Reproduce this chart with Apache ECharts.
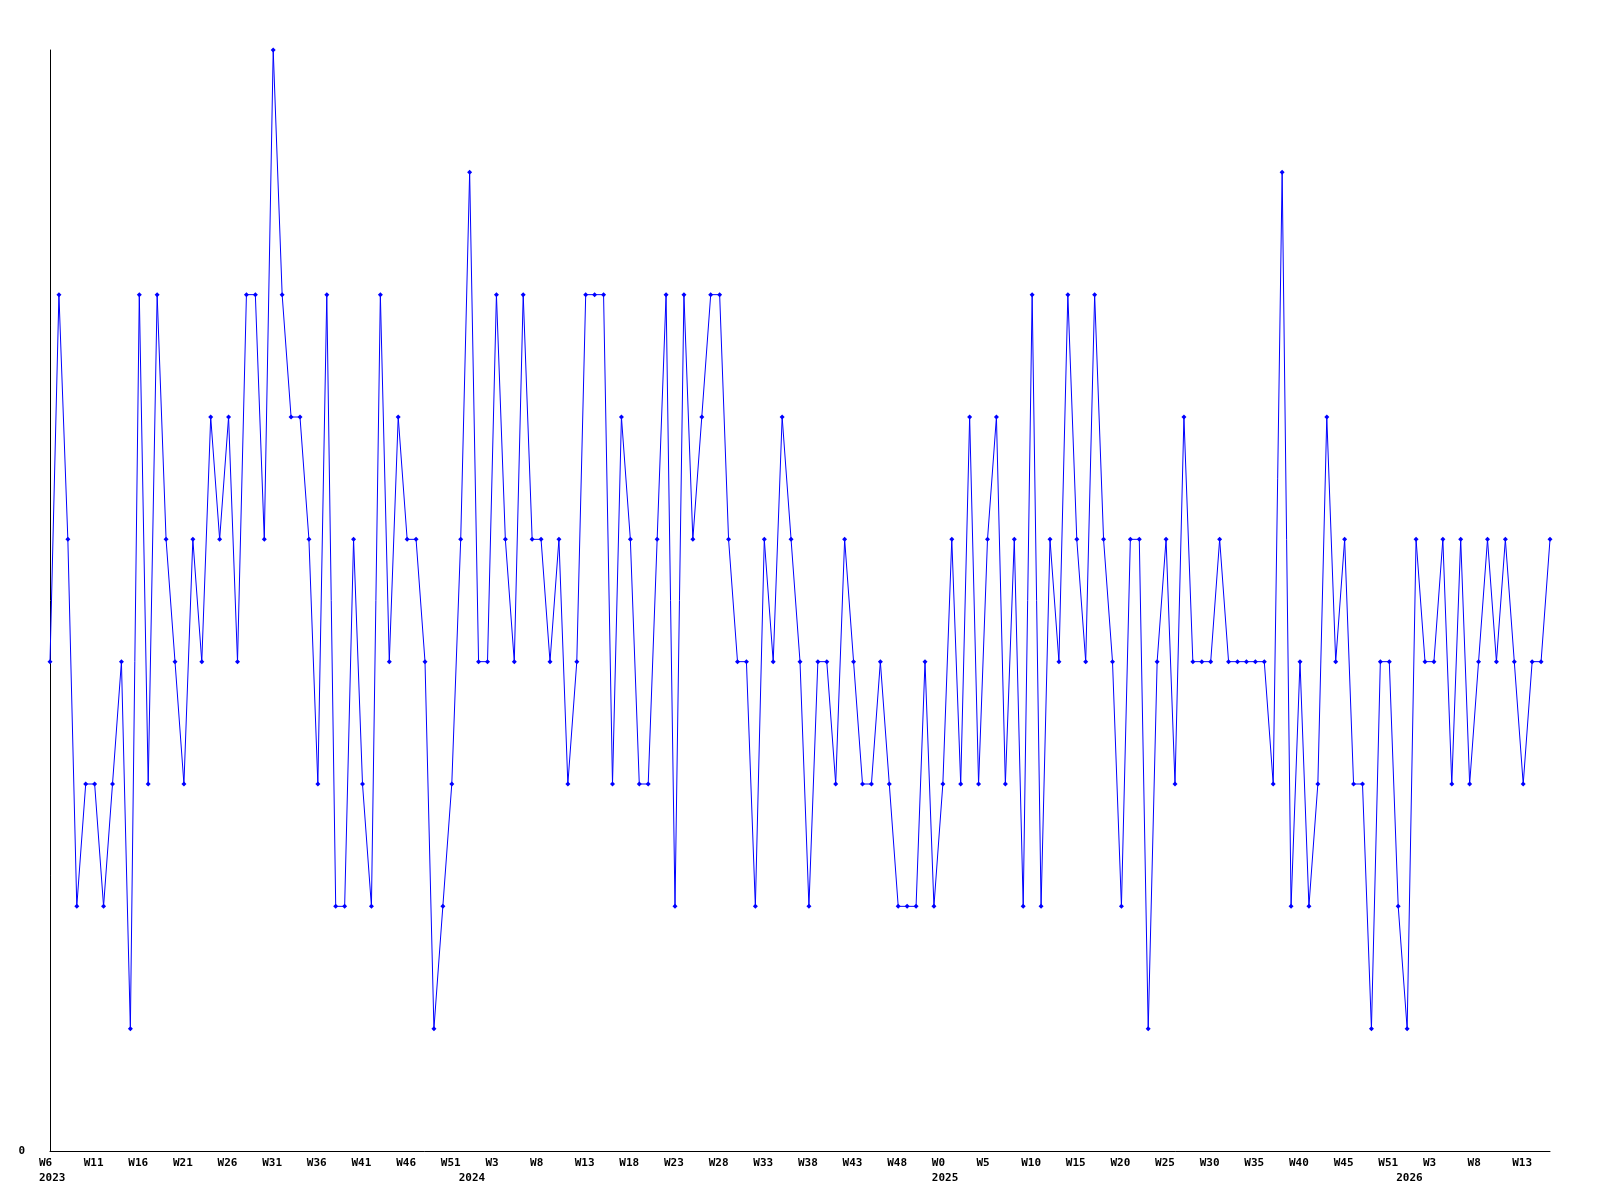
<!DOCTYPE html>
<html>
<head>
<meta charset="utf-8">
<script src="https://cdn.jsdelivr.net/npm/echarts@6/dist/echarts.min.js"></script>
<style>
html,body{margin:0;padding:0;background:#fff;}
#chart{width:1600px;height:1200px;}
</style>
</head>
<body>
<div id="chart"></div>
<script>
// weekly values, one per point
const values = [
  4,7,5,2,3,3,2,3,4,1,
  7,3,7,5,4,3,5,4,6,5,
  6,4,7,7,5,9,7,6,6,5,
  3,7,2,2,5,3,2,7,4,6,
  5,5,4,1,2,3,5,8,4,4,
  7,5,4,7,5,5,4,5,3,4,
  7,7,7,3,6,5,3,3,5,7,
  2,7,5,6,7,7,5,4,4,2,
  5,4,6,5,4,2,4,4,3,5,
  4,3,3,4,3,2,2,2,4,2,
  3,5,3,6,3,5,6,3,5,2,
  7,2,5,4,7,5,4,7,5,4,
  2,5,5,1,4,5,3,6,4,4,
  4,5,4,4,4,4,4,3,8,2,
  4,2,3,6,4,5,3,3,1,4,
  4,2,1,5,4,4,5,3,5,3,
  4,5,4,5,4,3,4,4,5
];
// labels shown every 5th point
const weekTicks = [
  'W6','W11','W16','W21','W26','W31','W36','W41','W46','W51',
  'W3','W8','W13','W18','W23','W28','W33','W38','W43','W48',
  'W0','W5','W10','W15','W20','W25','W30','W35','W40','W45','W51',
  'W3','W8','W13'
];
const tickStep = 5;
// year labels (second line) and the point index where they appear
const years = ['2023','2024','2025','2026'];
const yearIndex = [0, 47, 100, 152];

const categories = values.map((_, i) => String(i));

const chart = echarts.init(document.getElementById('chart'), null, {renderer: 'canvas'});
const font = '"DejaVu Sans Mono", "Liberation Mono", monospace';

chart.setOption({
  animation: false,
  backgroundColor: '#ffffff',
  grid: {left: 50, right: 50, top: 50, bottom: 49, containLabel: false, outerBoundsMode: 'none'},
  xAxis: {
    type: 'category',
    data: categories,
    boundaryGap: false,
    axisLine: {show: true, lineStyle: {color: '#000', width: 1}},
    axisTick: {show: false},
    splitLine: {show: false},
    axisLabel: {
      interval: 0,
      margin: 5,
      align: 'left',
      padding: [0, 0, 0, -11],
      color: '#000',
      fontFamily: font,
      fontWeight: 'bold',
      fontSize: 11,
      lineHeight: 15,
      formatter: function (v, i) {
        const w = (i % tickStep === 0 && weekTicks[i / tickStep]) ? weekTicks[i / tickStep] : '';
        const y = yearIndex.indexOf(i);
        if (y >= 0) return w + '\n' + years[y];
        return w;
      }
    }
  },
  yAxis: {
    type: 'value',
    min: 0,
    max: 9,
    interval: 9,
    axisLine: {show: true, lineStyle: {color: '#000', width: 1}},
    axisTick: {show: false},
    splitLine: {show: false},
    axisLabel: {
      margin: 25,
      color: '#000',
      fontFamily: font,
      fontWeight: 'bold',
      fontSize: 11,
      formatter: function (v) { return v === 0 ? '0' : ''; }
    }
  },
  series: [{
    type: 'line',
    data: values,
    symbol: 'diamond',
    symbolSize: 5,
    showAllSymbol: true,
    lineStyle: {color: '#0000ff', width: 1},
    itemStyle: {color: '#0000ff'},
    emphasis: {disabled: true}
  }]
});
</script>
</body>
</html>
